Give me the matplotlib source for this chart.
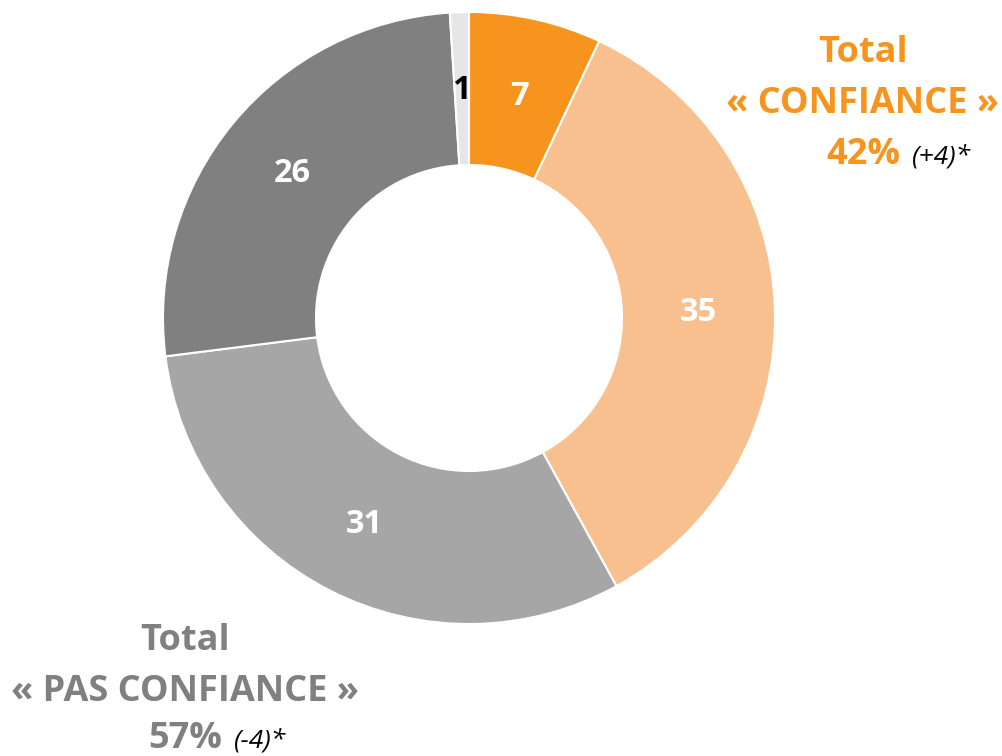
import matplotlib.pyplot as plt
import numpy as np

plt.rcParams['font.family'] = ['Open Sans', 'DejaVu Sans']

# data
values = [7, 35, 31, 26, 1]
slice_colors = ['#F7941D', '#F9C08F', '#A6A6A6', '#808080', '#E6E6E6']
label_colors = ['white', 'white', 'white', 'white', 'black']

orange = '#F7941D'
grey = '#808080'

fig = plt.figure(figsize=(10.03, 7.56), dpi=100)
ax = fig.add_axes([0, 0, 1, 1])

cx, cy = 469, 756 - 318
r_out, r_in = 306, 153

wedges, _ = ax.pie(values, colors=slice_colors, startangle=90, counterclock=False,
                   radius=r_out, center=(cx, cy),
                   wedgeprops=dict(width=r_out - r_in, edgecolor='white', linewidth=1.5))

# value labels at the middle of each ring segment
r_mid = (r_out + r_in) / 2
for w, v, c in zip(wedges, values, label_colors):
    ang = np.radians((w.theta1 + w.theta2) / 2)
    x = cx + r_mid * np.cos(ang)
    y = cy + r_mid * np.sin(ang)
    ax.text(x, y - 2, str(v), ha='center', va='center', fontsize=23.5,
            fontweight='bold', color=c)

ax.set_xlim(0, 1003)
ax.set_ylim(0, 756)
ax.set_aspect('equal')
ax.axis('off')

# group totals
ax.text(863, 756 - 53, 'Total', ha='center', va='center', fontsize=26,
        fontweight='bold', color=orange)
ax.text(863, 756 - 104, '« CONFIANCE »', ha='center', va='center', fontsize=26,
        fontweight='bold', color=orange)
ax.text(900, 756 - 155, '42%', ha='right', va='center', fontsize=26,
        fontweight='bold', color=orange)
ax.text(912, 756 - 157, '(+4)*', ha='left', va='center', fontsize=19,
        fontstyle='italic', color='black')

ax.text(185, 756 - 641, 'Total', ha='center', va='center', fontsize=26,
        fontweight='bold', color=grey)
ax.text(185, 756 - 692, '« PAS CONFIANCE »', ha='center', va='center', fontsize=26,
        fontweight='bold', color=grey)
ax.text(222, 756 - 739, '57%', ha='right', va='center', fontsize=26,
        fontweight='bold', color=grey)
ax.text(234, 756 - 741, '(-4)*', ha='left', va='center', fontsize=19,
        fontstyle='italic', color='black')

plt.savefig('out.png', dpi=100)
